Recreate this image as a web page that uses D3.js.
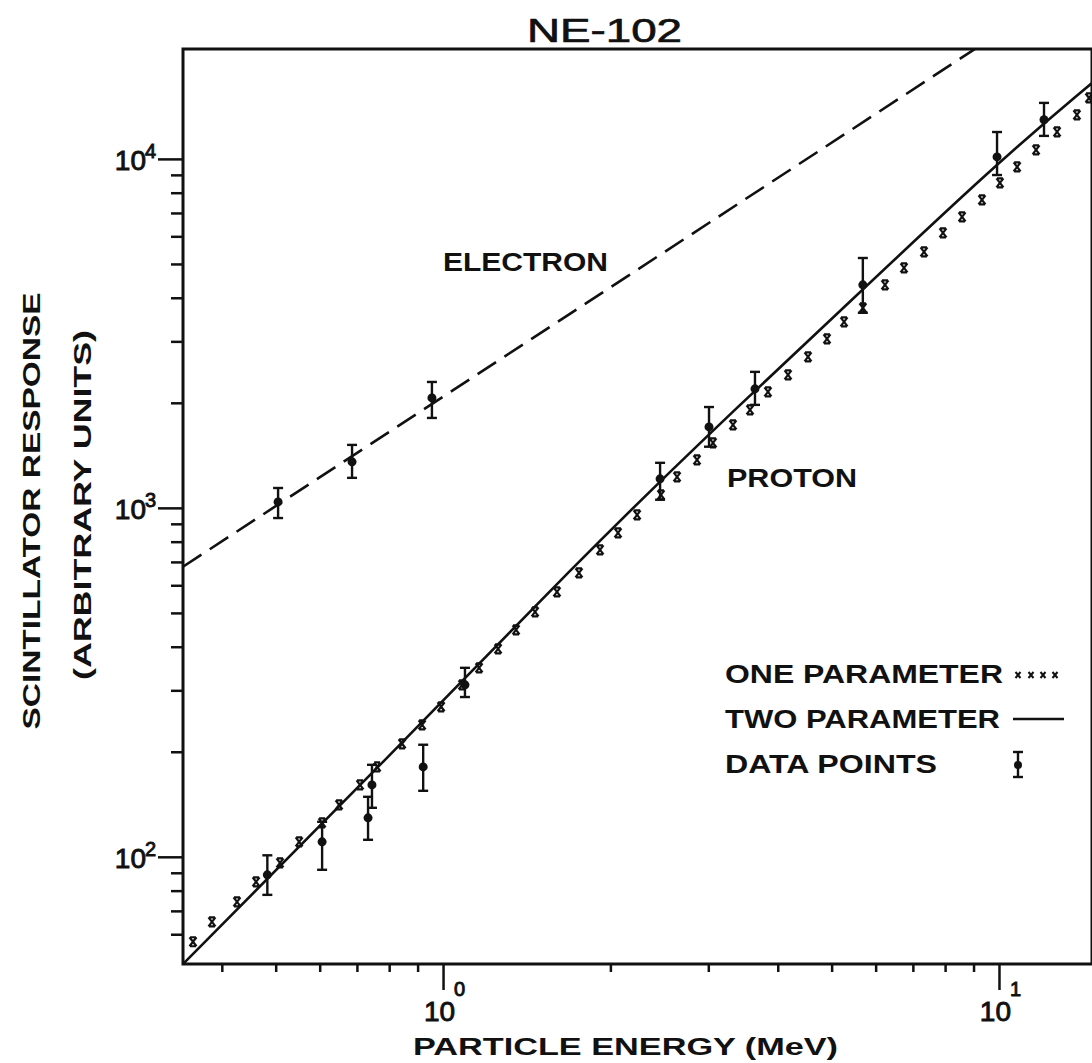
<!DOCTYPE html>
<html><head><meta charset="utf-8">
<script src="https://cdn.jsdelivr.net/npm/d3@7"></script>
<style>
html,body{margin:0;padding:0;background:#fff;}
svg{display:block;}
text{font-family:"Liberation Sans",Arial,sans-serif;fill:#111;}
</style></head>
<body>
<svg id="chart" width="1092" height="1063"></svg>
<script>
// ---------- data ----------
const title = "NE-102";
const xLabel = "PARTICLE ENERGY (MeV)";
const yLabel1 = "SCINTILLATOR RESPONSE";
const yLabel2 = "(ARBITRARY UNITS)";

const xMajorTicks = [1, 10];
const xMajorExp = ["0", "1"];
const xMinorTicks = [0.4,0.5,0.6,0.7,0.8,0.9,2,3,4,5,6,7,8,9];
const yMajorTicks = [100, 1000, 10000];
const yMajorExp = ["2", "3", "4"];
const yMinorTicks = [60,70,80,90,200,300,400,500,600,700,800,900,2000,3000,4000,5000,6000,7000,8000,9000];

// Electron (dashed) line
const electronE = [0.3406, 9.2];
const electronV = [678, 21000];
// Electron data points
const eDataE = [0.505, 0.686, 0.955];
const eDataV = [1040, 1355, 2066];
const eDataLo = [935, 1219, 1810];
const eDataHi = [1140, 1515, 2295];

// Proton: two-parameter fit (solid)
const twoParE = [0.3406, 0.79, 1.76, 3.02, 4.83, 9.92, 14.7];
const twoParV = [49.3, 190, 710, 1640, 3300, 9750, 16500];

// Proton: one-parameter fit (x marks)
const oneParE = [0.355,0.384,0.426,0.461,0.509,0.551,0.606,0.650,0.709,0.761,0.844,0.917,0.992,1.082,1.161,1.256,1.353,1.464,1.603,1.756,1.916,2.064,2.234,2.466,2.636,2.863,3.059,3.323,3.566,3.841,4.174,4.534,4.905,5.264,5.692,6.237,6.748,7.331,7.930,8.582,9.320,10.04,10.78,11.66,12.72,13.81,14.52];
const oneParV = [57.1,65.1,74.3,84.8,96.1,110.4,125.1,140.9,160.8,181.1,210.8,238.9,269.1,311.1,347.9,394.5,447.1,503.5,574.3,651.3,758.2,847.9,955,1089,1227,1373,1536,1729,1909,2150,2405,2708,3050,3412,3741,4355,4873,5414,6137,6822,7630,8535,9485,10610,11950,13370,14950];

// Proton data points
const pDataE = [0.483, 0.606, 0.733, 0.745, 0.921, 1.095, 2.457, 3.009, 3.64, 5.69, 9.92, 12.05];
const pDataV = [88.8, 110.4, 129.3, 160.7, 181, 311, 1211, 1706, 2193, 4355, 10130, 12950];
const pDataLo = [77.8, 91.8, 111.9, 138.2, 154.6, 287, 1055, 1497, 1973, 3622, 8990, 11640];
const pDataHi = [101, 126, 148.6, 183.5, 209.5, 348, 1346, 1945, 2453, 5200, 11940, 14470];

const legendLabels = ["ONE PARAMETER", "TWO PARAMETER", "DATA POINTS"];
const curveLabels = ["ELECTRON", "PROTON"];

// ---------- layout ----------
const L = 183, R = 1092, T = 49, B = 964;
const svg = d3.select("#chart");
const x = d3.scaleLog().domain([0.3406, 14.7]).range([L, R]);
const y = d3.scaleLog().domain([49.3, 20650]).range([B, T]);

svg.append("clipPath").attr("id","plotclip")
  .append("rect").attr("x", L).attr("y", T).attr("width", R-L).attr("height", B-T);

// axes ticks
function tickAxis(axis, tr, vals, size) {
  const g = svg.append("g").attr("transform", tr);
  g.call(axis.tickValues(vals).tickSize(size).tickSizeOuter(0).tickFormat(""));
  g.selectAll(".tick line").attr("stroke","#111").attr("stroke-width", 2.5);
  g.select(".domain").remove();
}
tickAxis(d3.axisBottom(x), `translate(0,${B})`, xMinorTicks, 8);
tickAxis(d3.axisBottom(x), `translate(0,${B})`, xMajorTicks, 26);
tickAxis(d3.axisLeft(y), `translate(${L},0)`, yMinorTicks, 12);
tickAxis(d3.axisLeft(y), `translate(${L},0)`, yMajorTicks, 25);

// frame
svg.append("path")
  .attr("d", `M${R},${T} L${L},${T} L${L},${B} L${R},${B} L${R},${T}`)
  .attr("fill","none").attr("stroke","#111").attr("stroke-width",3);

// tick labels
const thick = sel => sel.attr("stroke","#111").attr("stroke-width",0.9);
xMajorTicks.forEach((v,i) => {
  const px = x(v);
  svg.append("text").attr("x", px+12).attr("y", 1021).attr("text-anchor","end")
    .attr("font-size", 28).call(thick).text("10");
  svg.append("text").attr("x", px+11).attr("y", 996).attr("text-anchor","start")
    .attr("font-size", 20).call(thick).text(xMajorExp[i]);
});
yMajorTicks.forEach((v,i) => {
  const py = y(v);
  svg.append("text").attr("x", 146).attr("y", py+11).attr("text-anchor","end")
    .attr("font-size", 28).call(thick).text("10");
  svg.append("text").attr("x", 145).attr("y", py-1).attr("text-anchor","start")
    .attr("font-size", 20).call(thick).text(yMajorExp[i]);
});

// titles
svg.append("text").attr("x", 604.5).attr("y", 42).attr("text-anchor","middle")
  .attr("font-size", 34).attr("stroke","#111").attr("stroke-width",0.7)
  .attr("textLength",155).attr("lengthAdjust","spacingAndGlyphs").text(title);
svg.append("text").attr("x", 625.5).attr("y", 1055).attr("text-anchor","middle")
  .attr("font-size", 24).attr("font-weight","bold").attr("textLength",425).attr("lengthAdjust","spacingAndGlyphs").text(xLabel);
svg.append("text").attr("transform","translate(40,511) rotate(-90)").attr("text-anchor","middle")
  .attr("font-size", 23).attr("font-weight","bold").attr("textLength",437).attr("lengthAdjust","spacingAndGlyphs").text(yLabel1);
svg.append("text").attr("transform","translate(91,505) rotate(-90)").attr("text-anchor","middle")
  .attr("font-size", 23).attr("font-weight","bold").attr("textLength",350).attr("lengthAdjust","spacingAndGlyphs").text(yLabel2);

// plot content
const plot = svg.append("g").attr("clip-path","url(#plotclip)");

const dashLine = d3.line().x(d => x(d[0])).y(d => y(d[1]));
plot.append("path")
  .datum(electronE.map((e,i)=>[e, electronV[i]]))
  .attr("d", dashLine).attr("fill","none").attr("stroke","#111")
  .attr("stroke-width",2.6).attr("stroke-dasharray","22,10");

const fitLine = d3.line().x(d => x(d[0])).y(d => y(d[1])).curve(d3.curveBasis);
plot.append("path")
  .datum(twoParE.map((e,i)=>[e, twoParV[i]]))
  .attr("d", fitLine).attr("fill","none").attr("stroke","#111")
  .attr("stroke-width",2.6);

// x marks
const xMark = "M-3.5,-4.5 L3.5,4.5 M3.5,-4.5 L-3.5,4.5 M-3,-4.5 L3,-4.5 M-3,4.5 L3,4.5";
plot.selectAll(".xm").data(oneParE.map((e,i)=>[e, oneParV[i]])).enter()
  .append("path").attr("class","xm")
  .attr("transform", d => `translate(${x(d[0])},${y(d[1])})`)
  .attr("d", xMark).attr("fill","none").attr("stroke","#111").attr("stroke-width",2.2);

// error bars
function drawPoints(E, V, Lo, Hi) {
  const g = plot.append("g");
  E.forEach((e,i) => {
    const px = x(e);
    g.append("line").attr("x1",px).attr("x2",px).attr("y1",y(Lo[i])).attr("y2",y(Hi[i]))
      .attr("stroke","#111").attr("stroke-width",2.4);
    [Lo[i], Hi[i]].forEach(v => {
      g.append("line").attr("x1",px-5).attr("x2",px+5).attr("y1",y(v)).attr("y2",y(v))
        .attr("stroke","#111").attr("stroke-width",2.4);
    });
    g.append("circle").attr("cx",px).attr("cy",y(V[i])).attr("r",4.5).attr("fill","#111");
  });
}
drawPoints(eDataE, eDataV, eDataLo, eDataHi);
drawPoints(pDataE, pDataV, pDataLo, pDataHi);

// curve labels
svg.append("text").attr("x", 443).attr("y", 271).attr("font-size", 25).attr("font-weight","bold")
  .attr("textLength",165).attr("lengthAdjust","spacingAndGlyphs").text(curveLabels[0]);
svg.append("text").attr("x", 727).attr("y", 487).attr("font-size", 25).attr("font-weight","bold")
  .attr("textLength",130).attr("lengthAdjust","spacingAndGlyphs").text(curveLabels[1]);

// legend
const legY = [683, 728, 773];
const legW = [278, 275, 212];
legendLabels.forEach((t,i) => {
  svg.append("text").attr("x", 725).attr("y", legY[i]).attr("font-size", 25).attr("font-weight","bold")
    .attr("textLength", legW[i]).attr("lengthAdjust","spacingAndGlyphs").text(t);
});
const smallX = "M-2.5,-3 L2.5,3 M2.5,-3 L-2.5,3";
[1018, 1031, 1043, 1055].forEach(px => {
  svg.append("path").attr("transform",`translate(${px},675)`).attr("d", smallX)
    .attr("fill","none").attr("stroke","#111").attr("stroke-width",2);
});
svg.append("line").attr("x1",1013).attr("x2",1064).attr("y1",719).attr("y2",719)
  .attr("stroke","#111").attr("stroke-width",2.6);
svg.append("line").attr("x1",1018).attr("x2",1018).attr("y1",752).attr("y2",777)
  .attr("stroke","#111").attr("stroke-width",2.4);
[752,777].forEach(py => svg.append("line").attr("x1",1013).attr("x2",1023).attr("y1",py).attr("y2",py)
  .attr("stroke","#111").attr("stroke-width",2.4));
svg.append("circle").attr("cx",1018).attr("cy",765).attr("r",4).attr("fill","#111");
</script>
</body></html>
